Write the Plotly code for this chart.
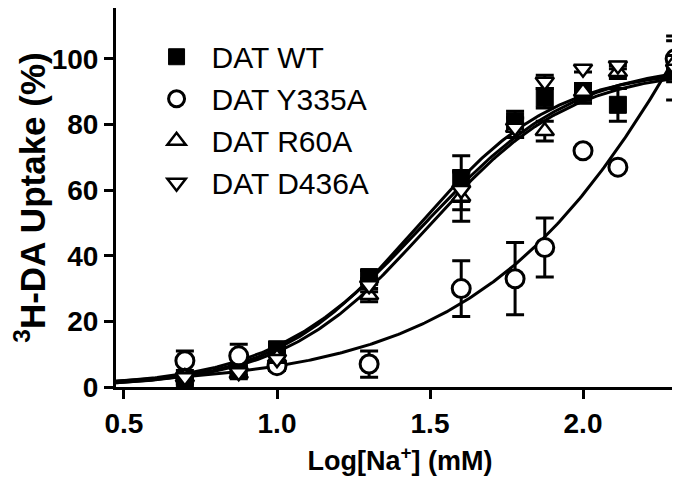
import numpy as np
import plotly.graph_objects as go

# ---- data ----
log_na = [0.699, 0.875, 1.0, 1.301, 1.602, 1.778, 1.875, 2.0, 2.114, 2.301]

wt_vals = [2.0, 5.0, 11.5, 33.5, 63.5, 81.0, 88.0, 89.5, 86.0, 96.5]
wt_err = [1.0, 1.5, 1.5, 2.0, 7.0, 3.0, 3.0, 3.0, 5.0, 9.0]

y335a_vals = [8.0, 9.5, 6.5, 7.0, 30.0, 33.0, 42.5, 72.0, 67.0, 100.0]
y335a_err = [3.0, 3.5, 1.5, 4.0, 8.5, 11.0, 9.0, 0.0, 0.0, 7.0]

r60a_vals = [3.0, 4.0, 9.0, 28.0, 58.0, 79.0, 78.0, 90.0, 96.0, 99.0]
r60a_err = [1.0, 1.5, 1.0, 2.0, 7.5, 3.0, 3.0, 2.0, 2.0, 2.0]

d436a_vals = [3.0, 4.5, 8.5, 31.0, 60.0, 79.0, 93.0, 97.0, 98.0, 97.0]
d436a_err = [1.0, 1.0, 1.0, 2.0, 6.0, 3.0, 2.0, 1.0, 1.0, 1.0]

series_names = ["DAT WT", "DAT Y335A", "DAT R60A", "DAT D436A"]

# sigmoidal fit parameters: (bottom, top, logEC50, hill slope)
fit_wt = (0.0, 97.0, 1.455, 1.9)
fit_y335a = (0.0, 300.0, 2.585, 1.05)
fit_r60a = (0.0, 97.0, 1.49, 1.85)
fit_d436a = (0.0, 99.0, 1.48, 1.75)

x_ticks = [0.5, 1.0, 1.5, 2.0]
y_ticks = [0, 20, 40, 60, 80, 100]

FONT = "Liberation Sans, Arial, sans-serif"


def hill(x, p):
    bottom, top, ec50, n = p
    return bottom + (top - bottom) / (1.0 + 10 ** ((ec50 - x) * n))


xs = np.linspace(0.474, 2.301, 300)

fig = go.Figure()

# fit curves
for p in [fit_y335a, fit_wt, fit_r60a, fit_d436a]:
    fig.add_trace(go.Scatter(x=xs, y=hill(xs, p), mode="lines",
                             line=dict(color="black", width=3),
                             showlegend=False, hoverinfo="skip"))

styles = [
    (wt_vals, wt_err, dict(symbol="square", size=17, color="black",
                           line=dict(color="black", width=1))),
    (y335a_vals, y335a_err, dict(symbol="circle", size=18, color="white",
                                 line=dict(color="black", width=3))),
    (r60a_vals, r60a_err, dict(symbol="triangle-up", size=16, color="white",
                               line=dict(color="black", width=2.5))),
    (d436a_vals, d436a_err, dict(symbol="triangle-down", size=16, color="white",
                                 line=dict(color="black", width=2.5))),
]

for name, (vals, err, mk) in zip(series_names, styles):
    fig.add_trace(go.Scatter(
        x=log_na, y=vals, mode="markers", name=name, marker=mk,
        error_y=dict(type="data", array=err, visible=True, color="black",
                     thickness=3, width=9),
    ))

fig.update_layout(
    width=680, height=480,
    margin=dict(l=108, r=4, t=0, b=101),
    paper_bgcolor="white", plot_bgcolor="white",
    font=dict(family=FONT, color="black"),
    legend=dict(x=0.045, y=0.94, xanchor="left", yanchor="top",
                itemwidth=60,
                font=dict(size=30, family=FONT, color="black"),
                bgcolor="rgba(0,0,0,0)", itemclick=False),
)

fig.update_xaxes(
    range=[0.4739, 2.330], tickvals=x_ticks, tickformat=".1f",
    showline=True, linewidth=3, linecolor="black", mirror=False,
    ticks="outside", ticklen=9, tickwidth=3, tickcolor="black",
    showgrid=False, zeroline=False,
    tickfont=dict(size=28, family=FONT, color="black", weight="bold"),
    title=dict(text="Log[Na<sup>+</sup>] (mM)", standoff=14,
               font=dict(size=27, family=FONT, color="black", weight="bold")),
)
fig.update_yaxes(
    range=[0, 115.5], tickvals=y_ticks,
    showline=True, linewidth=3, linecolor="black",
    ticks="outside", ticklen=9, tickwidth=3, tickcolor="black",
    showgrid=False, zeroline=False,
    tickfont=dict(size=28, family=FONT, color="black", weight="bold"),
    title=dict(text="<sup>3</sup>H-DA Uptake (%)", standoff=6,
               font=dict(size=35, family=FONT, color="black", weight="bold")),
)

fig.write_html("out.html")
